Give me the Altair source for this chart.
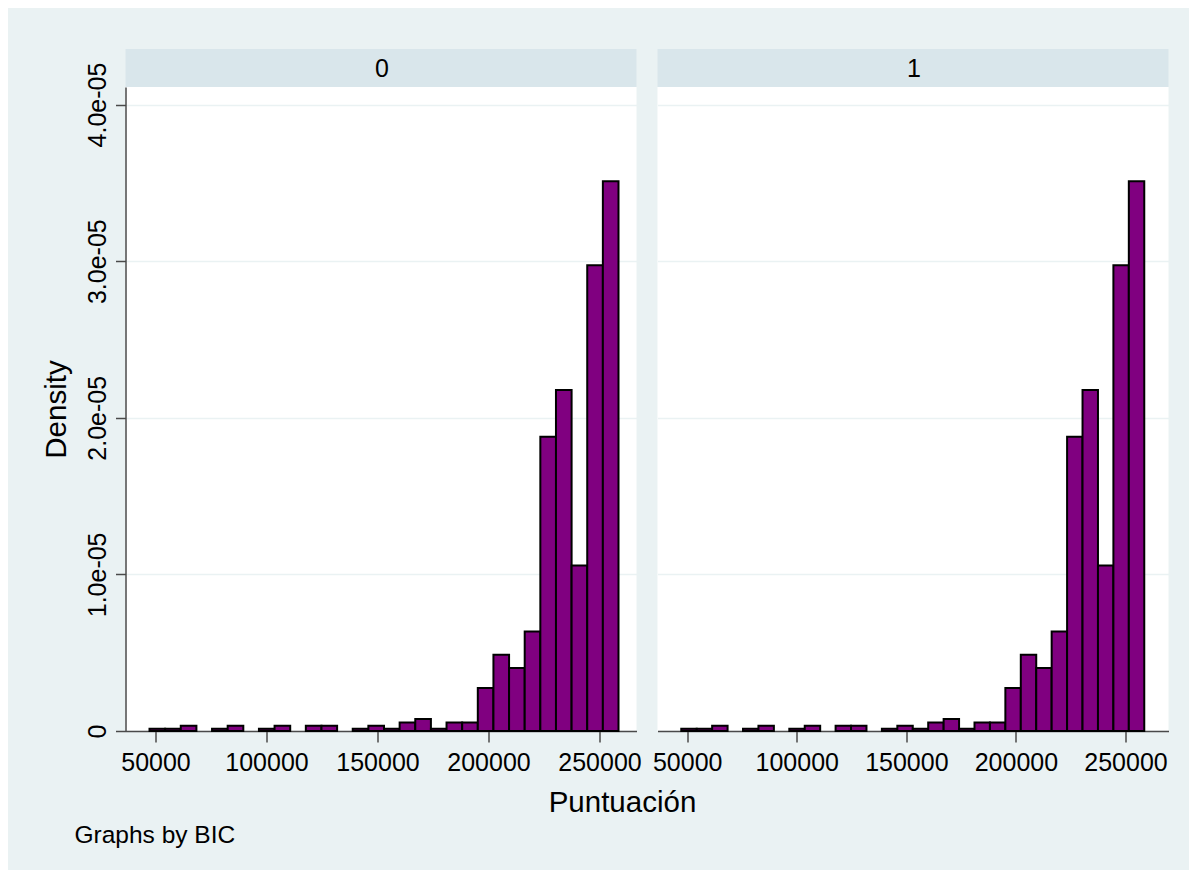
import altair as alt
import pandas as pd

# ---- data ----
panels = ["0", "1"]
bin_start = 47300
bin_width = 7042
densities = [
    1.5e-7, 1.5e-7, 3.4e-7, 0.0, 1.5e-7, 3.4e-7, 0.0, 1.5e-7, 3.4e-7, 0.0,
    3.4e-7, 3.4e-7, 0.0, 1.5e-7, 3.4e-7, 1.5e-7, 5.4e-7, 7.6e-7, 1.5e-7, 5.4e-7,
    5.4e-7, 2.74e-6, 4.87e-6, 4.02e-6, 6.36e-6, 1.879e-5, 2.178e-5, 1.056e-5, 2.974e-5, 3.511e-5,
]
x_ticks = [50000, 100000, 150000, 200000, 250000]
y_ticks = [0, 1e-5, 2e-5, 3e-5, 4e-5]
y_tick_labels = ["0", "1.0e-05", "2.0e-05", "3.0e-05", "4.0e-05"]
x_title = "Puntuación"
y_title = "Density"
note = "Graphs by BIC"

lo = [bin_start + i * bin_width for i in range(len(densities))]
hi = [v + bin_width for v in lo]
df = pd.DataFrame({"lo": lo, "hi": hi, "density": densities})

# ---- style ----
FONT = "Liberation Sans"
PURPLE = "#800080"
BG = "#EAF2F3"
STRIP_BG = "#D9E6EB"
AXIS_C = "#4a4a4a"
W, H, STRIP = 511, 644, 38
X_DOMAINS = [[36486, 266667], [36448, 269621]]
Y_DOMAIN = [0, 4.112e-5]

# label expression for y ticks
expr = "'" + y_tick_labels[-1] + "'"
for i in range(len(y_ticks) - 2, -1, -1):
    mid = (y_ticks[i] + y_ticks[i + 1]) / 2
    expr = f"datum.value < {mid} ? '{y_tick_labels[i]}' : ({expr})"


def panel(label, first, xdom):
    base = alt.Chart(df).transform_filter("datum.density > 0")
    x_axis = alt.Axis(values=x_ticks, format="d", title=None, grid=False,
                      tickSize=11, labelPadding=8, labelFontSize=25,
                      labelFlush=False, labelOverlap=False)
    if first:
        y_axis = alt.Axis(values=y_ticks, labelExpr=expr, title=y_title,
                          labelAngle=-90, labelAlign="center", labelBaseline="bottom",
                          labelFontSize=25, labelFlush=False, labelOverlap=False,
                          tickSize=10, labelPadding=5, titlePadding=14,
                          titleFontSize=29.5, titleFontWeight="normal",
                          grid=True)
    else:
        y_axis = alt.Axis(values=y_ticks, labels=False, ticks=False, domain=False,
                          title=None, grid=True)
    bars = base.mark_rect(fill=PURPLE, stroke="black", strokeWidth=2).encode(
        x=alt.X("lo:Q", scale=alt.Scale(domain=xdom, nice=False, zero=False), axis=x_axis),
        x2="hi:Q",
        y=alt.Y("density:Q", scale=alt.Scale(domain=Y_DOMAIN, nice=False), axis=y_axis),
        y2=alt.datum(0),
    )
    lab = pd.DataFrame({"panel": [label]})
    strip = alt.Chart(lab).mark_rect(fill=STRIP_BG).encode(
        x=alt.value(0), x2=alt.value(W), y=alt.value(-STRIP), y2=alt.value(0)
    )
    strip_text = alt.Chart(lab).mark_text(font=FONT, fontSize=25, color="black",
                                          baseline="middle", align="center").encode(
        x=alt.value(W / 2 + 1), y=alt.value(-STRIP / 2 + 1), text="panel:N"
    )
    layers = [bars, strip, strip_text]
    if first:
        t = pd.DataFrame({"t": [x_title]})
        layers.append(alt.Chart(t).mark_text(font=FONT, fontSize=29.5, color="black",
                                             align="center", baseline="middle").encode(
            x=alt.value(497), y=alt.value(716), text="t:N"))
        n = pd.DataFrame({"t": [note]})
        layers.append(alt.Chart(n).mark_text(font=FONT, fontSize=24.5, color="black",
                                             align="left", baseline="middle").encode(
            x=alt.value(-51), y=alt.value(749), text="t:N"))
    return alt.layer(*layers).properties(width=W, height=H)


chart = alt.hconcat(panel(panels[0], True, X_DOMAINS[0]),
                    panel(panels[1], False, X_DOMAINS[1]),
                    spacing=21, bounds="flush").properties(
    background=BG,
    padding={"left": 33.5, "top": 41, "right": 20, "bottom": 22},
).configure_view(strokeWidth=0, fill="white").configure_axis(
    labelFont=FONT, titleFont=FONT, labelColor="black", titleColor="black",
    domainColor=AXIS_C, tickColor=AXIS_C, domainWidth=1.5, tickWidth=1.5,
    gridColor=BG, gridWidth=1.6,
)

chart.save("out.html", embed_options={"renderer": "svg", "actions": False})
